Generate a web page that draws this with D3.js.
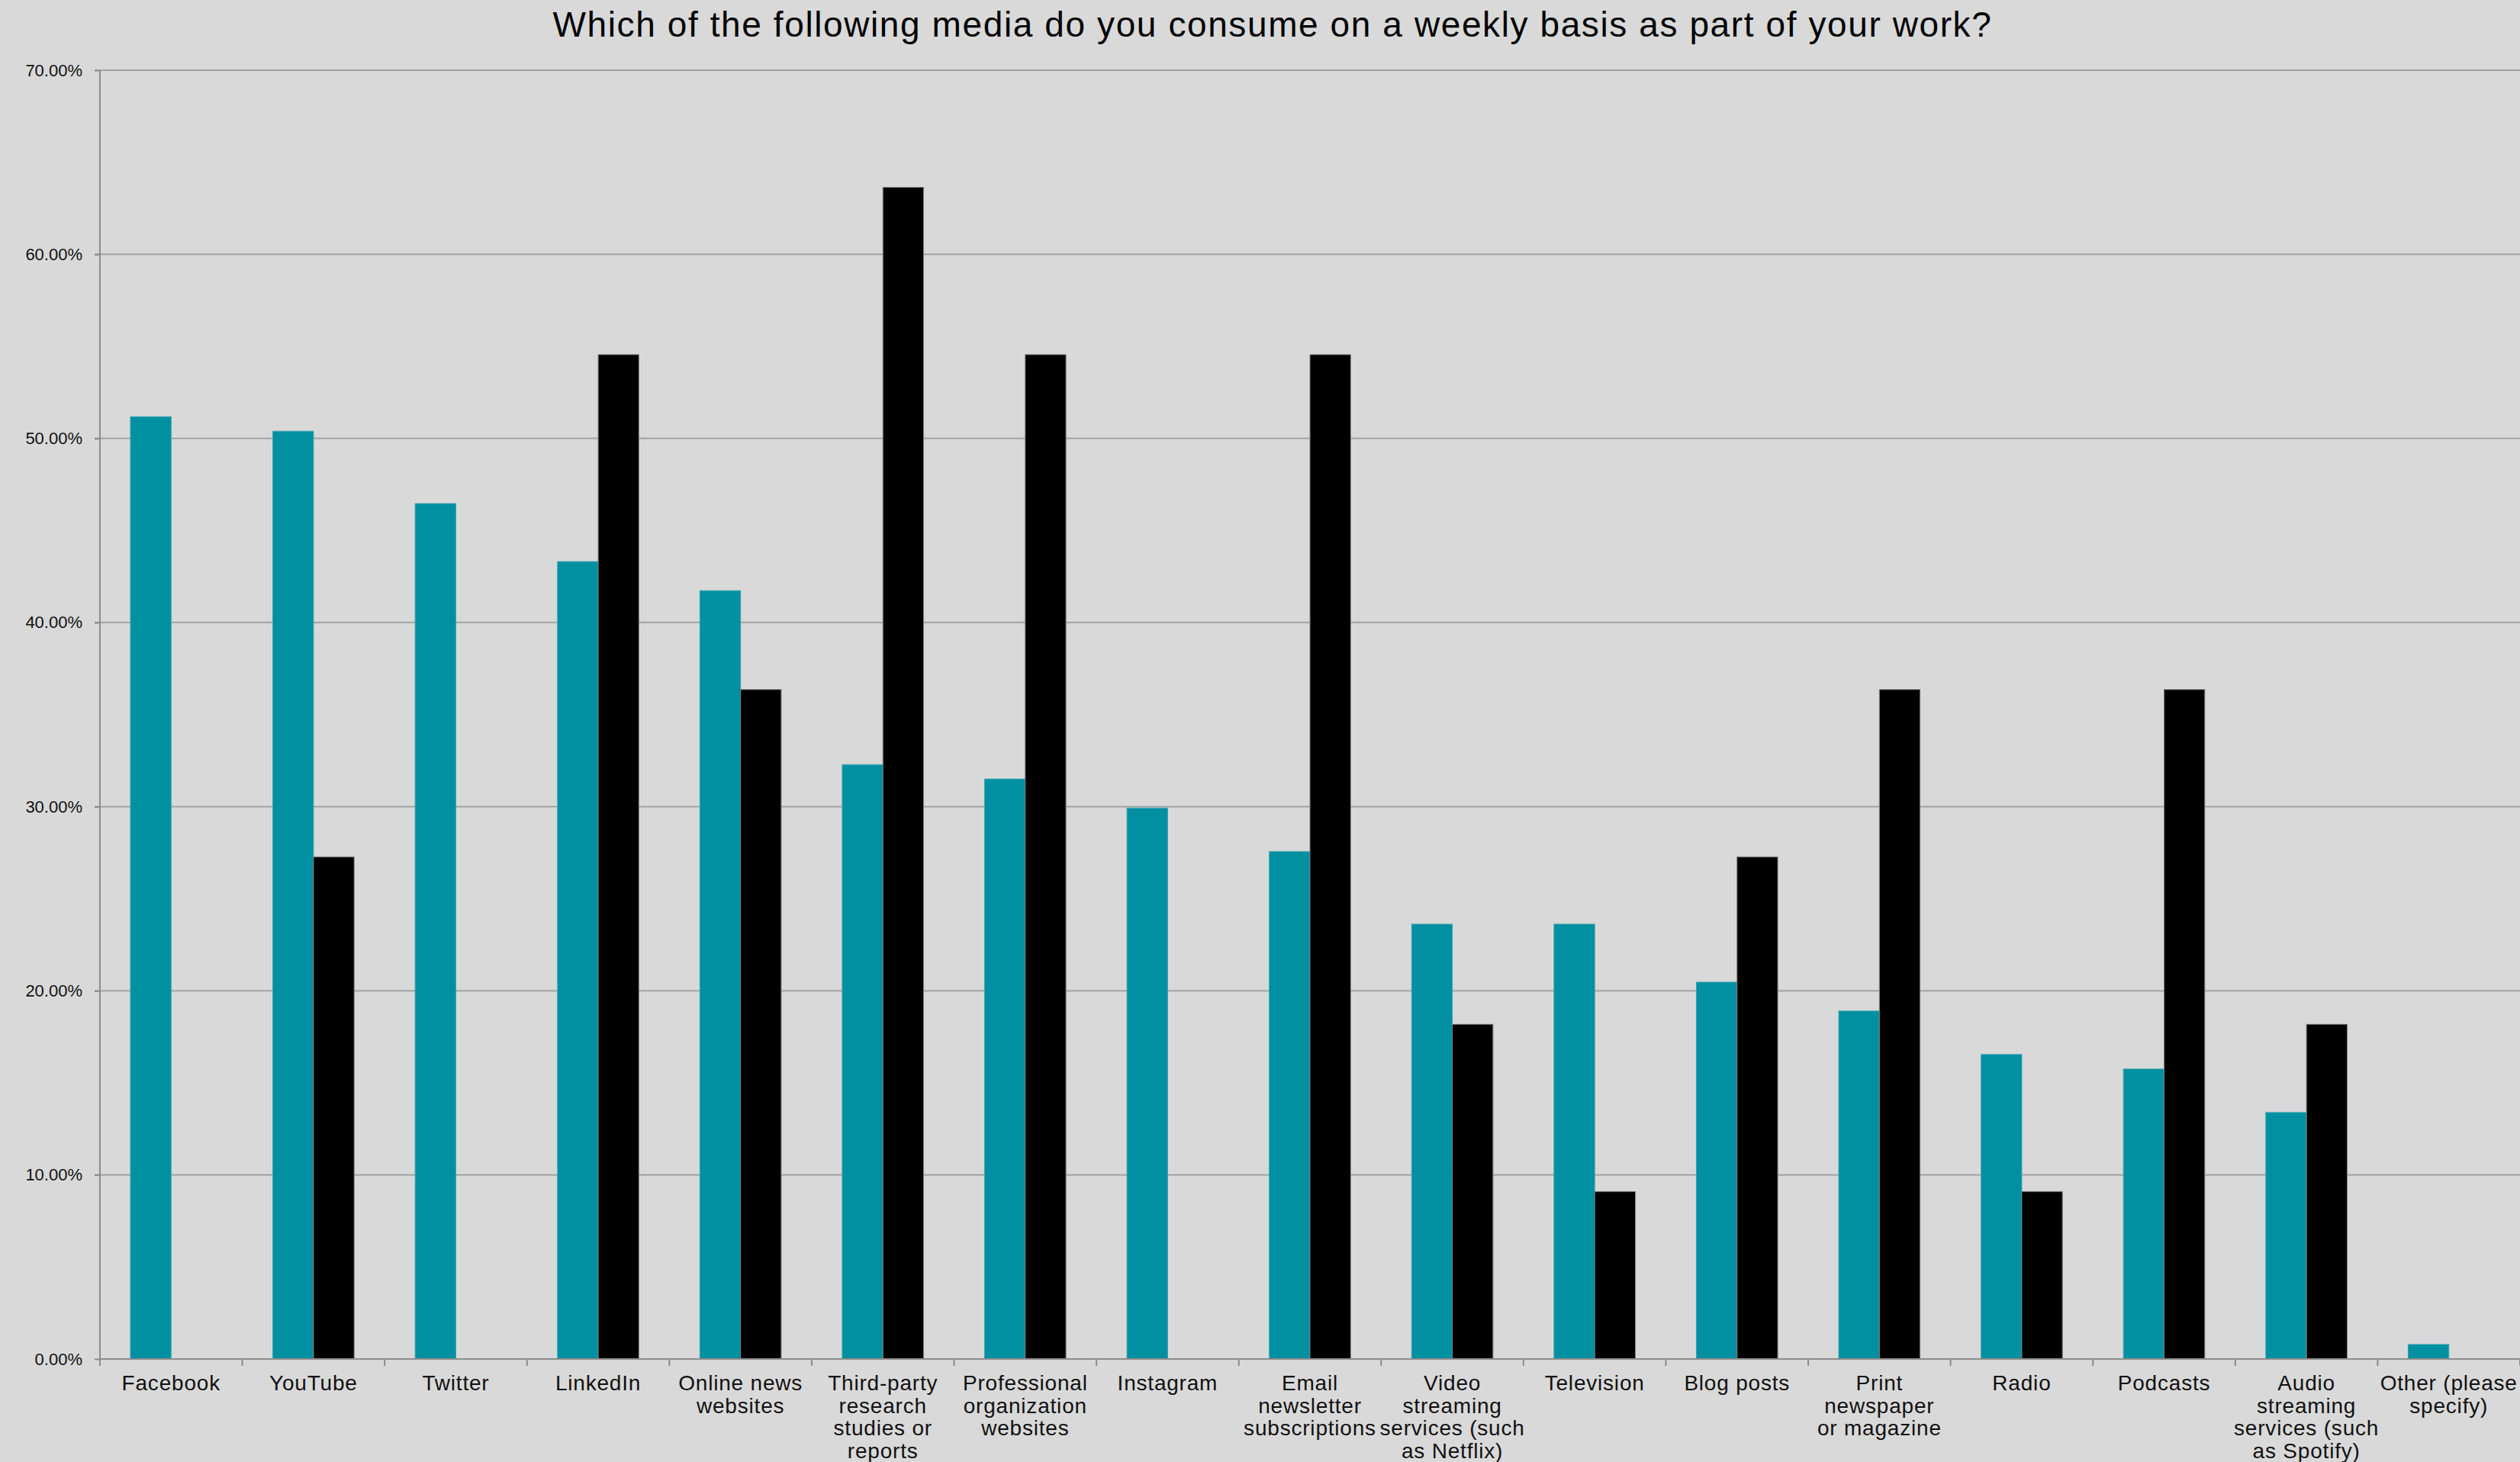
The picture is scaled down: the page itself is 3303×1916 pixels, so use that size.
<!DOCTYPE html>
<html>
<head>
<meta charset="utf-8">
<script src="https://cdn.jsdelivr.net/npm/d3@7"></script>
<style>
  html, body { margin: 0; padding: 0; background: #d9d9d9; }
  svg { display: block; }
</style>
</head>
<body>
<svg id="chart" width="3303" height="1916"></svg>
<script>
// ---- data ----
const title = "Which of the following media do you consume on a weekly basis as part of your work?";
const categories = [
  "Facebook", "YouTube", "Twitter", "LinkedIn", "Online news\nwebsites",
  "Third-party\nresearch\nstudies or\nreports", "Professional\norganization\nwebsites",
  "Instagram", "Email\nnewsletter\nsubscriptions", "Video\nstreaming\nservices (such\nas Netflix)",
  "Television", "Blog posts", "Print\nnewspaper\nor magazine", "Radio", "Podcasts",
  "Audio\nstreaming\nservices (such\nas Spotify)", "Other (please\nspecify)"
];
const seriesNames = ["Group A", "Group B"];
const seriesA = [51.18, 50.39, 46.46, 43.31, 41.73, 32.28, 31.50, 29.92, 27.56, 23.62, 23.62, 20.47, 18.90, 16.54, 15.75, 13.39, 0.79];
const seriesB = [0, 27.27, 0, 54.55, 36.36, 63.64, 54.55, 0, 54.55, 18.18, 9.09, 27.27, 36.36, 9.09, 36.36, 18.18, 0];
const yTicks = [0, 10, 20, 30, 40, 50, 60, 70];

(function () {
// ---- layout ----
const W = 3303, H = 1916;
const pLeft = 131, pRight = 3303, pTop = 92, pBottom = 1781;
const colors = ["#0090a1", "#000000"];
const strokes = ["#3aa3b0", "#808080"];
const font = "'Liberation Sans', Arial, sans-serif";

const svg = d3.select("#chart");
svg.append("rect").attr("width", W).attr("height", H).attr("fill", "#d9d9d9");

const x0 = d3.scaleBand().domain(categories).range([pLeft, pRight]).paddingInner(0).paddingOuter(0);
const x1 = d3.scaleBand().domain(seriesNames).range([0, x0.bandwidth()]).paddingInner(0).paddingOuter(0.75);
const y = d3.scaleLinear().domain([0, 70]).range([pBottom, pTop]);

// gridlines
svg.append("g").selectAll("line").data(yTicks.filter(d => d > 0)).join("line")
  .attr("x1", pLeft - 7).attr("x2", pRight)
  .attr("y1", d => y(d)).attr("y2", d => y(d))
  .attr("stroke", "#a3a3a3").attr("stroke-width", 2);

// bars
const rows = categories.map((c, i) => ({ cat: c, vals: [seriesA[i], seriesB[i]] }));
const groups = svg.append("g").selectAll("g").data(rows).join("g")
  .attr("transform", d => `translate(${x0(d.cat)},0)`);
groups.selectAll("rect")
  .data(d => d.vals.map((v, j) => ({ v, s: seriesNames[j], j })).filter(e => e.v > 0))
  .join("rect")
  .attr("x", e => x1(e.s))
  .attr("width", x1.bandwidth())
  .attr("y", e => y(e.v))
  .attr("height", e => y(0) - y(e.v))
  .attr("fill", e => colors[e.j])
  .attr("stroke", e => strokes[e.j])
  .attr("stroke-width", 1);

// y axis
const yAxis = d3.axisLeft(y).tickValues(yTicks).tickSize(7).tickPadding(16)
  .tickFormat(d => d.toFixed(2) + "%");
const gy = svg.append("g").attr("transform", `translate(${pLeft},0)`).call(yAxis);
gy.select(".domain").attr("stroke", "#8c8c8c").attr("stroke-width", 2)
  .attr("d", `M0,${pTop}V${pBottom + 9}`);
gy.selectAll(".tick line").attr("stroke", "#8c8c8c").attr("stroke-width", 2);
gy.selectAll(".tick text").attr("fill", "#111").style("font-family", font)
  .style("font-size", "22px");

// x axis
const boundaries = d3.range(categories.length + 1).map(i => pLeft + i * x0.step());
svg.append("line").attr("x1", pLeft).attr("x2", pRight).attr("y1", pBottom).attr("y2", pBottom)
  .attr("stroke", "#8c8c8c").attr("stroke-width", 2);
svg.append("g").selectAll("line").data(boundaries).join("line")
  .attr("x1", d => d).attr("x2", d => d).attr("y1", pBottom).attr("y2", pBottom + 9)
  .attr("stroke", "#8c8c8c").attr("stroke-width", 2);

const labels = svg.append("g").selectAll("text").data(categories).join("text")
  .attr("text-anchor", "middle")
  .attr("x", d => x0(d) + x0.bandwidth() / 2)
  .attr("y", 1822)
  .attr("fill", "#111")
  .style("font-family", font)
  .style("font-size", "28px")
  .style("letter-spacing", "0.8px");
labels.each(function (d) {
  const t = d3.select(this);
  d.split("\n").forEach((line, i) => {
    t.append("tspan").attr("x", x0(d) + x0.bandwidth() / 2).attr("dy", i === 0 ? 0 : 29.5).text(line);
  });
});

// title
svg.append("text").attr("x", 1668).attr("y", 48).attr("text-anchor", "middle")
  .attr("fill", "#000")
  .style("font-family", font)
  .style("font-size", "46px")
  .style("letter-spacing", "1.6px")
  .text(title);
})();
</script>
</body>
</html>
